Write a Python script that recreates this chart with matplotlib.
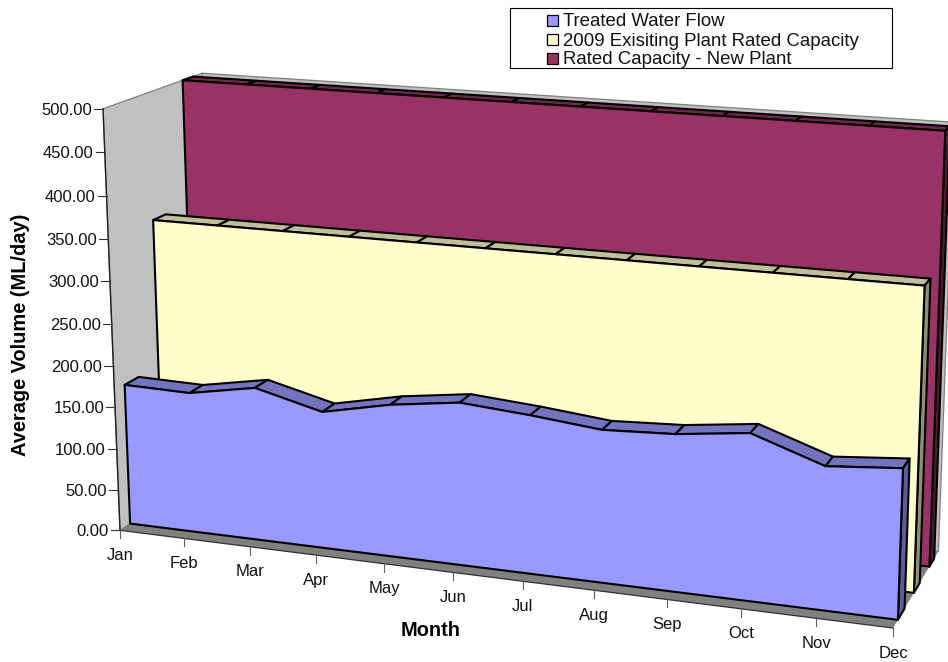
import matplotlib
matplotlib.use('Agg')
import matplotlib.pyplot as plt
from matplotlib.patches import Polygon, Rectangle
import numpy as np

plt.rcParams['font.family'] = ['Liberation Sans', 'DejaVu Sans']

months = ['Jan', 'Feb', 'Mar', 'Apr', 'May', 'Jun', 'Jul', 'Aug', 'Sep', 'Oct', 'Nov', 'Dec']
value_ticks = [0, 50, 100, 150, 200, 250, 300, 350, 400, 450, 500]

treated_flow = [170, 168.5, 183, 163, 180, 191, 185, 177, 181, 191, 163, 170]
existing_capacity = [348] * 12
new_capacity = [500] * 12

series_names = ['Treated Water Flow', '2009 Exisiting Plant Rated Capacity', 'Rated Capacity - New Plant']
series_values = [treated_flow, existing_capacity, new_capacity]

# front, top, side
series_colors = [('#9999FF', '#7373BF', '#5C5C99'),
                 ('#FFFFCC', '#BFBF99', '#8F8F73'),
                 ('#993366', '#73264D', '#4D1A33')]
# depth slots of the three series, 0 front of the floor, 1 back wall
series_depth = [(0.10, 0.24), (0.44, 0.57), (0.79, 0.90)]

# camera fitted on the reference: (month/11, value/500, depth, 1) -> pixel
CAMERA = np.array([[0.7013713359, -0.0212940707, 0.1121913370, 0.1219805494],
                   [0.0400572884, -0.4326644788, -0.0292606399, 0.5389789325],
                   [-9.430294e-05, -3.892473e-05, 7.498244e-05, 0.001016284808]])


def project(month, value, depth):
    h = CAMERA @ np.array([month / 11, value / 500, depth, 1])
    return h[0] / h[2], h[1] / h[2]


def face(ax, points, color, edge='black', lw=1.5):
    ax.add_patch(Polygon([project(*_) for _ in points], closed=True, facecolor=color,
                         edgecolor=edge, linewidth=lw, joinstyle='round'))


fig = plt.figure(figsize=(9.48, 6.62), dpi=100)
ax = fig.add_axes([0, 0, 1, 1])
ax.set_xlim(0, 948)
ax.set_ylim(662, 0)
ax.axis('off')

top = value_ticks[-1]
last = len(months) - 1

# walls and floor
face(ax, [(0, 0, 1), (last, 0, 1), (last, top, 1), (0, top, 1)], '#C0C0C0', '#808080', 0.9)
face(ax, [(0, 0, 0), (0, 0, 1), (0, top, 1), (0, top, 0)], '#C0C0C0', '#808080', 0.9)
face(ax, [(0, 0, 0), (last, 0, 0), (last, 0, 1), (0, 0, 1)], '#808080', 'none', 0)

# series, back to front
for values, colors, (z0, z1) in reversed(list(zip(series_values, series_colors, series_depth))):
    front, roof, side = colors
    for i in range(last):
        face(ax, [(i, values[i], z0), (i + 1, values[i + 1], z0),
                  (i + 1, values[i + 1], z1), (i, values[i], z1)], roof)
    face(ax, [(last, 0, z0), (last, values[last], z0), (last, values[last], z1), (last, 0, z1)], side)
    outline = [(0, 0, z0)] + [(i, v, z0) for i, v in enumerate(values)] + [(last, 0, z0)]
    face(ax, outline, front)

# front edges of the walls, over the floor
x, y = zip(project(0, 0, 0), project(last, 0, 0))
ax.plot(x, y, color='#303030', lw=0.9)
x, y = zip(project(0, 0, 0), project(0, top, 0))
ax.plot(x, y, color='#202020', lw=1.0)

# value axis
for value in value_ticks:
    x, y = project(0, value, 0)
    ax.plot([x - 9, x], [y, y], color='#303030', lw=0.8)
    ax.text(x - 11, y, f'{value:.2f}', ha='right', va='center_baseline', fontsize=12, color='#111111')

# category axis
for i, month in enumerate(months):
    x, y = project(i, 0, 0)
    ax.plot([x, x], [y, y + 8], color='#606060', lw=0.8)
    ax.text(x, y + 23.5, month, ha='center', va='center_baseline', fontsize=12, color='#111111')

ax.text(431, 628, 'Month', ha='center', va='center_baseline', fontsize=14.4, fontweight='bold')
ax.text(21, 335, 'Average Volume (ML/day)', ha='center', va='center', rotation=90,
        fontsize=14.4, fontweight='bold')

# legend
ax.add_patch(Rectangle((510, 8), 382, 60, facecolor='white', edgecolor='black', linewidth=0.8))
for row, (name, colors) in enumerate(zip(series_names, series_colors)):
    y = 20 + 19 * row
    ax.add_patch(Rectangle((547, y - 5.5), 11, 11, facecolor=colors[0], edgecolor='black', linewidth=0.9))
    ax.text(563, y, name, ha='left', va='center_baseline', fontsize=13.4, color='#111111')

fig.savefig('out.png', dpi=100)
